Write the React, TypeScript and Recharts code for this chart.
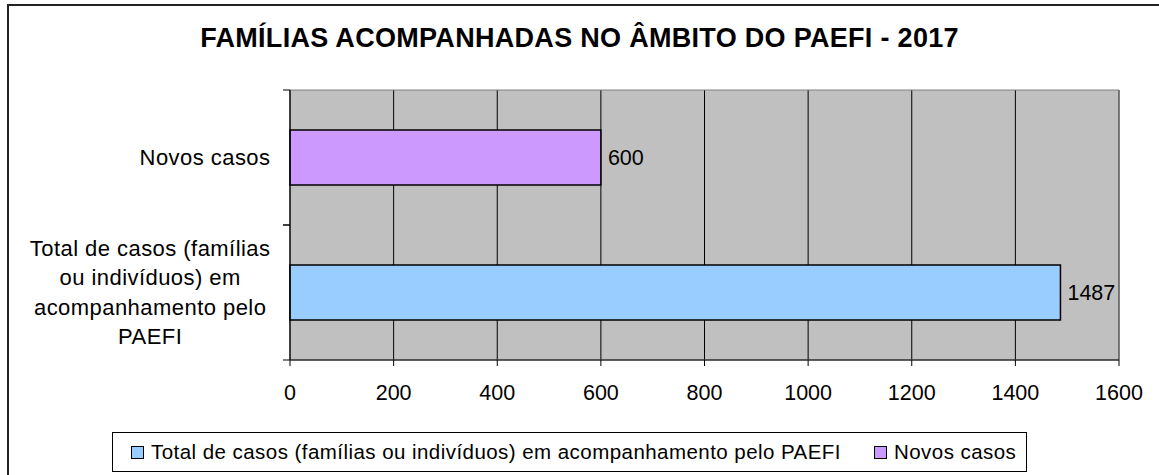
import React from 'react';
import { BarChart, Bar, XAxis, YAxis, CartesianGrid, Legend, LabelList, ReferenceArea } from 'recharts';

const title = 'FAMÍLIAS ACOMPANHADAS NO ÂMBITO DO PAEFI - 2017';
const categories = [
  'Total de casos (famílias ou indivíduos) em acompanhamento pelo PAEFI',
  'Novos casos',
];
// line breaks of the category labels, as printed
const categoryLines = [
  ['Total de casos (famílias', 'ou indivíduos) em', 'acompanhamento pelo', 'PAEFI'],
  ['Novos casos'],
];
const seriesNames = [
  'Total de casos (famílias ou indivíduos) em acompanhamento pelo PAEFI',
  'Novos casos',
];
const seriesValues = [1487, 600];
const seriesColors = ['#99CCFF', '#CC99FF'];
const xTicks = [0, 200, 400, 600, 800, 1000, 1200, 1400, 1600];

// one row per category, each series only has a value in its own row
const data = categories.map((name, i) => ({ name, ['s' + i]: seriesValues[i] }));

const FONT = '"Liberation Sans", Arial, sans-serif';

function CategoryTick(props: any) {
  const { x, y, payload } = props;
  const half = payload.offset ?? 0;
  const idx = categories.indexOf(payload.value);
  const lines = idx >= 0 ? categoryLines[idx] : [String(payload.value)];
  return (
    <g>
      <line x1={x - 7} x2={x} y1={y - half} y2={y - half} stroke="#000" />
      <line x1={x - 7} x2={x} y1={y + half} y2={y + half} stroke="#000" />
      <foreignObject x={0} y={y - half} width={x - 19.5} height={half * 2}>
        <div
          style={{
            height: '100%',
            display: 'flex',
            alignItems: 'center',
            justifyContent: 'flex-end',
            fontFamily: FONT,
          }}
        >
          <div style={{ textAlign: 'center', fontSize: 22, letterSpacing: 0.45, lineHeight: '29.5px', color: '#000' }}>
            {lines.map((l) => (
              <div key={l}>{l}</div>
            ))}
          </div>
        </div>
      </foreignObject>
    </g>
  );
}

function LegendBox(props: any) {
  const items = [...(props.payload ?? [])].sort(
    (a: any, b: any) => seriesNames.indexOf(a.value) - seriesNames.indexOf(b.value),
  );
  return (
    <div
      style={{
        boxSizing: 'border-box',
        height: 40,
        border: '1px solid #000',
        display: 'flex',
        alignItems: 'center',
        padding: '0 10px 0 18px',
        fontSize: 20.5,
        letterSpacing: 0.45,
        whiteSpace: 'nowrap',
        background: '#fff',
        color: '#000',
        fontFamily: FONT,
      }}
    >
      {items.map((it: any, i: number) => (
        <span key={i} style={{ display: 'flex', alignItems: 'center', marginLeft: i ? 33 : 0 }}>
          <span
            style={{
              display: 'inline-block',
              width: 11,
              height: 11,
              border: '1px solid #000',
              background: it.color,
              marginRight: 7,
            }}
          />
          {it.value}
        </span>
      ))}
    </div>
  );
}

export default function App() {
  return (
    <div
      style={{
        position: 'fixed',
        left: 0,
        top: 0,
        width: 1159,
        height: 475,
        overflow: 'hidden',
        background: '#fff',
        fontFamily: FONT,
      }}
    >
      <div
        style={{
          position: 'absolute',
          left: 7,
          top: 4,
          width: 1300,
          height: 600,
          borderLeft: '2px solid #222',
          borderTop: '2px solid #222',
        }}
      />
      <div
        style={{
          position: 'absolute',
          left: 0,
          top: 23,
          width: 1159,
          textAlign: 'center',
          fontSize: 27,
          letterSpacing: 0.3,
          lineHeight: '30px',
          fontWeight: 'bold',
          color: '#000',
        }}
      >
        {title}
      </div>
      <div style={{ position: 'absolute', left: 0, top: 0 }}>
        <BarChart
          width={1159}
          height={475}
          data={data}
          layout="vertical"
          margin={{ top: 90, right: 40, bottom: 75, left: 0 }}
        >
          <CartesianGrid horizontal={false} stroke="#000" fill="#C0C0C0" fillOpacity={1} />
          <ReferenceArea x1={0} x2={1600} stroke="#808080" strokeWidth={1} fill="none" fillOpacity={0} />
          {seriesNames.map((n, i) => (
            <Bar
              key={n}
              dataKey={'s' + i}
              name={n}
              stackId="a"
              fill={seriesColors[i]}
              stroke="#000"
              strokeWidth={1.5}
              barSize={55}
              isAnimationActive={false}
            >
              <LabelList dataKey={'s' + i} position="right" offset={7} fontSize={21.5} fill="#000" />
            </Bar>
          ))}
          <XAxis
            type="number"
            domain={[0, 1600]}
            ticks={xTicks}
            interval={0}
            height={40}
            tickSize={6}
            tickMargin={19}
            stroke="#000"
            tick={{ fontSize: 21.5, fill: '#000' }}
          />
          <YAxis
            type="category"
            dataKey="name"
            reversed
            width={290}
            interval={0}
            tickSize={0}
            tickMargin={0}
            tickLine={false}
            stroke="#000"
            tick={<CategoryTick />}
          />
          <Legend
            layout="horizontal"
            verticalAlign="middle"
            align="center"
            content={<LegendBox />}
            wrapperStyle={{ left: 112, top: 432, width: 'auto', height: 'auto' }}
          />
        </BarChart>
      </div>
    </div>
  );
}
